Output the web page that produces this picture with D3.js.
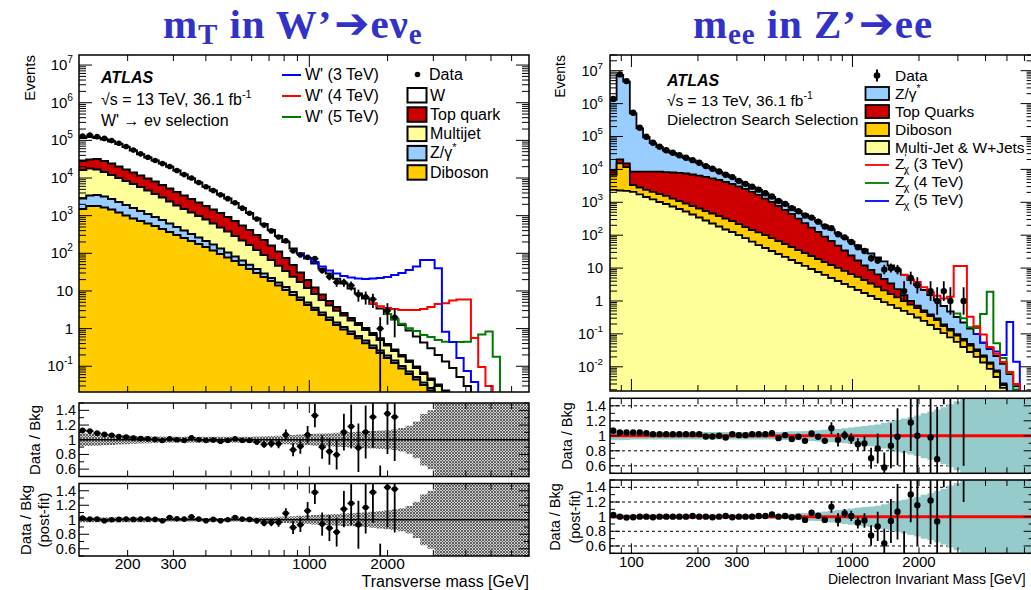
<!DOCTYPE html>
<html><head><meta charset="utf-8">
<script src="https://cdn.jsdelivr.net/npm/d3@7"></script>
<style>body{margin:0;background:#fff;}svg{display:block;}text{font-family:"Liberation Sans",Arial,Helvetica,sans-serif;fill:#000;}</style>
</head><body>
<script>
// ===================== LEFT: mT in W' -> e nu =====================
const edgesL = [130,138.6,147.8,157.6,168.1,179.2,191.1,203.8,217.3,231.7,247.1,263.6,281.1,299.7,319.6,340.8,363.6,387.7,413.5,440.9,470.2,501.5,534.8,570.3,608.1,648.5,691.6,737.5,786.5,838.7,894.4,953.8,1017,1085,1157,1234,1315,1403,1496,1595,1701,1814,1935,2063,2200,2346,2502,2668,2845,3034,3236,3451,3680,3924,4185,4463,4759,5075,5412,5771,6154,6563,7000];
// stacked (cumulative) heights, ROOT THStack style
const cumW   = [1.15e5,1.23e5,1.15e5,1.05e5,9.3e4,8.0e4,6.65e4,5.4e4,4.3e4,3.5e4,2.9e4,2.43e4,2.0e4,1.58e4,1.24e4,9700,7600,5900,4650,3650,2860,2170,1600,1170,840,600,416,288,200,134,99,73,54,39,29,21,15.8,11.6,8.55,6.3,4.6,3.4,2.44,1.75,1.25,0.89,0.62,0.43,0.30,0.20,0.134,0.090,0.052,0.030,0.0174,0.010,0.006,0.0035,0.002,0.0012,0.0007,0.0004];
const cumTop = [2.83e4,3.1e4,3.2e4,2.83e4,2.43e4,2.02e4,1.68e4,1.40e4,1.17e4,9700,8100,6500,5300,4250,3430,2770,2240,1800,1460,1180,920,720,550,416,306,226,161,112,75,49,31,19.5,12.4,8.0,5.4,3.75,2.6,1.91,1.41,1.04,0.76,0.55,0.39,0.279,0.199,0.142,0.0985,0.068,0.047,0.0328,0.0227,0.0157,0.011,0.0075,0.005,0.0035,0.0024,0.0016,0.0011,0.0008,0.0005,0.0004];
const cumMJ  = [1.63e4,1.79e4,1.68e4,1.44e4,1.20e4,1.0e4,8300,6900,5800,4660,3760,3030,2380,1860,1500,1210,980,790,620,485,380,288,219,166,122,90,66,47,34,24,17.3,12.0,8.3,5.75,4.1,3.0,2.23,1.64,1.25,0.92,0.68,0.50,0.356,0.254,0.182,0.130,0.090,0.062,0.043,0.030,0.0207,0.0143,0.0099,0.0068,0.0047,0.0032,0.0022,0.0015,0.001,0.0007,0.0005,0.0003];
const cumZ   = [2850,3430,3540,3230,2770,2300,1920,1600,1330,1110,920,767,619,500,403,325,263,212,171,134,105,82,64,50,38,29,22,16.8,12.7,9.4,6.7,4.9,3.6,2.68,1.97,1.45,1.10,0.84,0.64,0.48,0.356,0.262,0.193,0.142,0.102,0.0725,0.0518,0.037,0.0265,0.0183,0.0128,0.009,0.0062,0.0043,0.003,0.0021,0.0015,0.001,0.0007,0.0005,0.0003,0.0002];
const cumDB  = [1500,1800,1800,1650,1460,1210,1010,840,720,619,531,442,368,306,255,212,177,147,119,96,77,62,49,38,30,23.5,18.4,14.0,10.6,7.8,5.75,4.24,3.12,2.30,1.69,1.25,0.95,0.72,0.55,0.41,0.305,0.225,0.166,0.122,0.087,0.062,0.0445,0.0318,0.0227,0.0157,0.011,0.0075,0.005,0.0035,0.0024,0.0016,0.0011,0.0008,0.0005,0.0004,0.0003,0.0002];
// signal + background, starting at given bin
const wp3Start = 30, wp3 = [99,75,59,44.7,34.9,29.1,24.9,22.8,21.4,20.8,21.4,22.1,23.5,26.5,30,36,44.7,66,66,40,0.83,0.44,0.166,0.075,0.038,0.0195,0.008,0.003];
const wp4Start = 40, wp4 = [4.7,3.9,3.5,3.3,3.12,3.12,3.12,3.3,3.75,4.5,4.7,5.6,5.9,5.9,0.56,0.096,0.030,0.01,0.004];
const wp5Start = 42, wp5 = [2.44,1.8,1.35,1.02,0.86,0.68,0.60,0.50,0.45,0.44,0.44,0.45,0.56,0.70,0.84,0.18,0.012,0.005];
const dataL = [129600,137500,125400,112700,98600,83600,68900,55200,43800,35500,29100,24100,20300,15800,12300,9960,7600,5840,4630,3580,2830,2200,1584,1158,815,562,393,272,214,116,90,78,72,35,24,17,17,14,8,7,6,1,3,2];
const ratioL1 = [1.127,1.118,1.09,1.073,1.06,1.045,1.036,1.023,1.018,1.014,1.005,0.99,1.014,1.0,0.99,1.027,1.0,0.99,0.995,0.98,0.99,1.014,0.99,0.99,0.97,0.936,0.945,0.945,1.068,0.864,0.91,1.068,1.33,0.9,0.84,0.795,1.105,1.18,0.89,1.105,1.31,0.3,1.355,1.31];
const ratioL2 = [1.023,1.009,1.009,0.986,1.0,1.005,1.009,1.005,1.009,1.009,1.005,0.986,1.032,1.014,1.009,1.041,1.009,0.986,1.005,0.986,1.0,1.032,1.009,1.005,0.986,0.954,0.963,0.963,1.088,0.894,0.931,1.124,1.378,0.94,0.885,0.83,1.147,1.226,0.931,1.17,1.378,0.32,1.447,1.424];
const ratioErrL = [0.004,0.004,0.004,0.005,0.005,0.005,0.006,0.006,0.007,0.007,0.008,0.009,0.01,0.01,0.012,0.013,0.015,0.016,0.018,0.02,0.022,0.025,0.028,0.032,0.037,0.045,0.052,0.06,0.07,0.09,0.1,0.12,0.16,0.16,0.18,0.2,0.25,0.3,0.33,0.36,0.42,0.35,0.55,0.6];
const bandL1 = [0.09,0.085,0.08,0.075,0.07,0.065,0.06,0.055,0.05,0.048,0.045,0.043,0.042,0.04,0.04,0.04,0.04,0.04,0.04,0.04,0.04,0.04,0.04,0.042,0.045,0.048,0.05,0.055,0.06,0.065,0.07,0.075,0.08,0.085,0.09,0.095,0.1,0.105,0.11,0.115,0.12,0.125,0.13,0.14,0.16,0.19,0.25,0.35,0.4,0.6,0.8,0.8,0.8,0.8,0.8,0.8,0.8,0.8,0.8,0.8,0.8,0.8];
const bandL2 = [0.035,0.035,0.035,0.035,0.035,0.035,0.035,0.035,0.035,0.035,0.025,0.025,0.025,0.025,0.025,0.025,0.025,0.025,0.025,0.025,0.025,0.025,0.025,0.03,0.03,0.035,0.035,0.04,0.045,0.05,0.055,0.06,0.065,0.07,0.075,0.08,0.085,0.09,0.095,0.1,0.11,0.12,0.13,0.14,0.16,0.19,0.25,0.35,0.4,0.6,0.8,0.8,0.8,0.8,0.8,0.8,0.8,0.8,0.8,0.8,0.8,0.8];
const xTickLabelsL = [200,300,1000,2000];

// ===================== RIGHT: mee in Z' -> ee =====================
const edgesR = [80,85.7,91.81,98.36,105.4,112.9,120.9,129.6,138.8,148.7,159.3,170.6,182.8,195.8,209.8,224.7,240.8,257.9,276.3,296.0,317.1,339.7,363.9,389.9,417.7,447.4,479.3,513.5,550.1,589.3,631.3,676.2,724.4,776.1,831.4,890.6,954.1,1022,1095,1173,1257,1346,1442,1545,1655,1773,1900,2035,2180,2335,2502,2680,2871,3076,3295,3530,3781,4051,4340,4649,4981,5335,5716,6123,6560,7027];
const cumZR   = [1.29e6,7.4e6,4.63e6,5.07e5,1.77e5,9.5e4,6.3e4,4.8e4,3.75e4,3.15e4,2.64e4,2.22e4,1.87e4,1.57e4,1.27e4,1.06e4,8600,7000,5700,4440,3600,2920,2370,1850,1450,1130,888,695,544,426,333,261,197,149,113,85,64,48.6,36.8,27.8,21,15.9,12,9.1,6.2,4.35,3.06,2.16,1.52,1.04,0.705,0.48,0.326,0.222,0.146,0.099,0.053,0.0347,0.0213,0.0122,0.006,0.0026,0.00113,0.0005,0.0002];
const cumTopR = [9600,2.03e4,1.53e4,8500,8600,8600,8600,8600,8300,8050,7800,7500,7000,6500,5900,5300,4760,4140,3600,3020,2540,2060,1670,1300,1020,771,583,441,321,234,171,125,91,66.5,48.5,34.2,24.1,17.0,12.0,8.75,6.4,4.66,3.4,2.3,1.5,1.0,0.72,0.52,0.39,0.294,0.193,0.141,0.099,0.070,0.0493,0.0336,0.022,0.0135,0.0077,0.0031,0.0011,0.0005,0.0003,0.0002,0.0001];
const cumDBR  = [6800,1.53e4,1.18e4,3360,2820,2370,2060,1790,1560,1300,1090,918,771,647,543,456,383,321,270,219,177,144,121,101,82,66.7,54,43.8,35.5,28.8,23.3,18.9,15.3,12.4,10.1,8.2,6.6,5.4,4.35,3.4,2.67,2.09,1.63,1.28,1.0,0.78,0.61,0.46,0.35,0.264,0.174,0.127,0.089,0.063,0.0444,0.0302,0.0199,0.0122,0.0070,0.0028,0.001,0.0004,0.0002,0.0001,0.0001];
const cumMJR  = [2370,2280,2210,2060,1730,1450,1220,1020,888,745,625,525,426,345,280,227,184,149,125,101,82,64,50,40.8,33.1,26.8,21.8,17.6,14.3,11.6,9.4,7.6,6.2,5.0,4.05,3.29,2.67,2.16,1.75,1.42,1.15,0.93,0.76,0.61,0.50,0.40,0.315,0.247,0.186,0.141,0.106,0.078,0.057,0.040,0.0282,0.0199,0.0135,0.0086,0.0049,0.0023,0.0008,0.0003,0.0002,0.0001,0.0001];
const zp3Start = 44, zp3 = [6.3,4.5,3.8,2.6,1.8,1.45,1.2,1.35,11.5,11.5,0.33,0.17,0.096,0.04,0.025,0.014,0.007,0.003,0.0015,0.0007,0.0003];
const zp4Start = 52, zp4 = [0.42,0.3,0.16,0.15,0.4,1.9,0.052,0.0185,0.0065,0.002,0.0008,0.0003,0.0001];
const zp5Start = 55, zp5 = [0.1,0.055,0.037,0.029,0.0228,0.23,0.0143,0.001,0.0005,0.0002];
const dataR = [1.376e6,7.73e6,4.83e6,5.29e5,1.85e5,9.84e4,6.44e4,4.91e4,3.83e4,3.22e4,2.7e4,2.27e4,1.91e4,1.6e4,1.26e4,1.05e4,8600,6850,5830,4480,3630,2980,2420,1890,1500,1095,896,664,537,397,343,258,184,164,107,86,62,43,33,20,17,9,10,9,2,5,3,null,2,1,2,1,null,1];
const ratioR1 = [1.067,1.044,1.044,1.044,1.044,1.036,1.022,1.022,1.022,1.022,1.022,1.022,1.022,1.022,0.991,0.991,1.0,0.978,1.022,1.009,1.009,1.022,1.022,1.022,1.036,0.969,1.009,0.956,0.987,0.933,1.031,0.987,0.933,1.102,0.947,1.009,0.964,0.889,0.898,0.702,0.831,0.578,0.867,0.987,0.3,1.178,1.0,null,0.978,0.689,2.0,2.1,null,3.0];
const ratioR2 = [1.022,1.0,0.987,0.991,1.0,1.0,0.991,1.0,1.0,1.0,1.0,1.0,1.009,1.0,1.0,0.991,1.0,1.009,0.991,1.0,1.0,1.0,1.009,1.009,1.031,1.0,1.009,0.991,1.0,0.956,1.053,1.013,0.956,1.133,0.956,1.044,1.009,0.92,0.947,0.742,0.867,0.636,0.942,1.067,0.3,1.302,1.156,null,1.222,0.933,2.4,2.3,null,3.2];
const ratioErrR1 = [0.003,0.003,0.003,0.003,0.003,0.003,0.003,0.003,0.003,0.003,0.003,0.003,0.003,0.003,0.005,0.005,0.006,0.006,0.007,0.008,0.009,0.01,0.011,0.012,0.014,0.016,0.018,0.02,0.022,0.025,0.03,0.035,0.04,0.08,0.09,0.06,0.07,0.08,0.1,0.14,0.2,0.2,0.3,0.38,0.5,0.38,0.55,null,0.6,0.7,0.58,2.1,null,2.4];
const ratioErrR2 = [0.003,0.003,0.003,0.003,0.003,0.003,0.003,0.003,0.003,0.003,0.003,0.003,0.003,0.003,0.005,0.005,0.006,0.006,0.007,0.008,0.009,0.01,0.011,0.012,0.014,0.016,0.018,0.02,0.022,0.025,0.03,0.035,0.04,0.08,0.09,0.06,0.07,0.08,0.1,0.14,0.2,0.2,0.3,0.38,0.5,0.38,0.55,null,0.6,0.7,1.0,2.3,null,2.0];
const bandR1 = [0.06,0.06,0.055,0.05,0.05,0.05,0.05,0.05,0.05,0.05,0.05,0.05,0.05,0.05,0.05,0.05,0.05,0.05,0.05,0.05,0.05,0.05,0.05,0.05,0.05,0.05,0.055,0.06,0.06,0.065,0.07,0.075,0.08,0.085,0.09,0.1,0.11,0.12,0.13,0.14,0.15,0.17,0.19,0.21,0.23,0.25,0.27,0.3,0.32,0.35,0.38,0.42,0.46,0.5,0.6,0.6,0.6,0.6,0.6,0.6,0.6,0.6,0.6,0.6,0.6];
const bandR2 = [0.03,0.03,0.03,0.03,0.03,0.03,0.03,0.03,0.03,0.03,0.03,0.03,0.03,0.03,0.03,0.03,0.03,0.03,0.03,0.03,0.03,0.03,0.03,0.03,0.03,0.03,0.035,0.04,0.045,0.05,0.055,0.06,0.07,0.08,0.09,0.1,0.11,0.12,0.13,0.14,0.15,0.17,0.19,0.21,0.23,0.25,0.27,0.3,0.32,0.35,0.38,0.42,0.46,0.5,0.6,0.6,0.6,0.6,0.6,0.6,0.6,0.6,0.6,0.6,0.6];
const xTickLabelsR = [100,200,300,1000,2000];
const ratioTickLabels = [0.6,0.8,1,1.2,1.4];

// ===================== drawing =====================
const svg = d3.select("body").append("svg").attr("width",1031).attr("height",590);
const defs = svg.append("defs");
const pat = defs.append("pattern").attr("id","hatch").attr("patternUnits","userSpaceOnUse").attr("width",3).attr("height",3);
pat.append("rect").attr("width",3).attr("height",3).attr("fill","#cfcfcf");
pat.append("path").attr("d","M0,0L3,3M3,0L0,3").attr("stroke","#555").attr("stroke-width",0.9);

function ln(g,x1,y1,x2,y2,w,c){return g.append("line").attr("x1",x1).attr("y1",y1).attr("x2",x2).attr("y2",y2).attr("stroke",c||"#000").attr("stroke-width",w||1);}
let clipN=0;
function clipGroup(x0,y0,x1,y1){const id="c"+(clipN++);defs.append("clipPath").attr("id",id).append("rect").attr("x",x0).attr("y",y0).attr("width",x1-x0).attr("height",y1-y0);return svg.append("g").attr("clip-path",`url(#${id})`);}
function stepD(edges,vals,start,x,y,closeY){
  let d="";
  vals.forEach((v,k)=>{ if(v==null) return; const i=start+k; const yy=Math.min(y(Math.max(v,1e-9)),2000); const xa=x(edges[i]),xb=x(edges[i+1]);
    if(d==="") d = closeY!=null ? `M${xa},${closeY}V${yy}` : `M${xa},${yy}`; else d+=`V${yy}`; d+=`H${xb}`;});
  if(closeY!=null){ d+=`V${closeY}Z`; }
  return d;
}
function stackLayer(g,edges,vals,x,y,bottom,fill,sw){
  g.append("path").attr("d",stepD(edges,vals,0,x,y,bottom+20)).attr("fill",fill).attr("stroke","none");
  g.append("path").attr("d",stepD(edges,vals,0,x,y,null)).attr("fill","none").attr("stroke","#000").attr("stroke-width",sw);
}
function logXTicks(g,x,dom,yTop,yBot,maj,min){
  for(let e=Math.floor(Math.log10(dom[0]));e<=Math.ceil(Math.log10(dom[1]));e++) for(let m=1;m<=9;m++){
    const v=m*Math.pow(10,e); if(v<dom[0]*1.001||v>dom[1]*0.999) continue; const xx=x(v); const l=m===1?maj:min;
    ln(g,xx,yBot,xx,yBot-l); ln(g,xx,yTop,xx,yTop+l);}
}
function logYTicks(g,y,dom,x0,x1,maj,min){
  for(let e=Math.floor(Math.log10(dom[0]));e<=Math.ceil(Math.log10(dom[1]));e++) for(let m=1;m<=9;m++){
    const v=m*Math.pow(10,e); if(v<dom[0]||v>dom[1]) continue; const yy=y(v); const l=m===1?maj:min;
    ln(g,x0,yy,x0+l,yy); ln(g,x1,yy,x1-l,yy);}
}
function ratioYTicks(g,r,x0,x1){
  for(let k=0;k<=10;k++){const v=0.5+k*0.1; const yy=r(v); const l=(k%2===1)?10:5; ln(g,x0,yy,x0+l,yy); ln(g,x1,yy,x1-l,yy);}
}
function expLabel(g,x,y,e,fs){
  const t=g.append("text").attr("x",x).attr("y",y+5).attr("text-anchor","end").attr("font-size",fs);
  if(e===0) t.text("1"); else if(e===1) t.text("10");
  else { t.append("tspan").text("10"); t.append("tspan").attr("dy",-7).attr("font-size",fs*0.68).text(e<0?"-"+(-e):String(e)); }
}
function frame(x0,y0,x1,y1){svg.append("rect").attr("x",x0).attr("y",y0).attr("width",x1-x0).attr("height",y1-y0).attr("fill","none").attr("stroke","#000").attr("stroke-width",1.5);}
function rotText(x,y,txt,anchor,fs){return svg.append("text").attr("x",x).attr("y",y).attr("text-anchor",anchor).attr("font-size",fs).attr("transform",`rotate(-90,${x},${y})`).text(txt);}
function dataDraw(g,edges,vals,x,y,r,hbar,sym){
  vals.forEach((v,i)=>{ if(v==null) return; const xc=(x(edges[i])+x(edges[i+1]))/2;
    let lo,hi; if(sym){lo=v-Math.sqrt(v);hi=v+Math.sqrt(v);} else {lo=v-Math.sqrt(v+0.25)+0.5;hi=v+Math.sqrt(v+0.25)+0.5;}
    ln(g,xc,y(hi),xc,Math.min(y(Math.max(lo,1e-9)),2000),1.8);
    if(hbar) ln(g,x(edges[i]),y(v),x(edges[i+1]),y(v),1.6);
    g.append("circle").attr("cx",xc).attr("cy",y(v)).attr("r",r).attr("fill","#000");});
}
function ratioPanel(o){
  const g=clipGroup(o.x0,o.y0,o.x1,o.y1);
  if(o.grid){ [0.6,0.8,1.2,1.4].forEach(v=>ln(g,o.x0,o.r(v),o.x1,o.r(v),1,"#000").attr("stroke-dasharray","3,3")); }
  let d="",back=[];
  o.band.forEach((b,i)=>{const xa=o.x(o.edges[i]),xb=o.x(o.edges[i+1]); d+=(i===0?`M${xa},${o.r(1+b)}`:`V${o.r(1+b)}`)+`H${xb}`; back.unshift([xa,o.r(1-b)]);});
  back.forEach(s=>{ d+=`V${s[1]}H${s[0]}`; }); d+="Z";
  g.append("path").attr("d",d).attr("fill",o.bandFill).attr("stroke","none");
  ln(g,o.x0,o.r(1),o.x1,o.r(1),o.lineW,o.lineC);
  o.vals.forEach((v,i)=>{ if(v==null) return; const xa=o.x(o.edges[i]),xb=o.x(o.edges[i+1]),xc=(xa+xb)/2; const e=o.err[i]||0;
    ln(g,xc,o.r(v+e),xc,o.r(v-e),1.8);
    if(o.hbar) ln(g,xa,o.r(v),xb,o.r(v),1.6);
    g.append("circle").attr("cx",xc).attr("cy",o.r(v)).attr("r",o.mr).attr("fill","#000");});
  frame(o.x0,o.y0,o.x1,o.y1);
  const t=svg.append("g"); logXTicks(t,o.x,o.xdom,o.y0,o.y1,10,6); ratioYTicks(t,o.r,o.x0,o.x1);
  ratioTickLabels.forEach(v=>svg.append("text").attr("x",o.lx).attr("y",o.r(v)+5).attr("text-anchor","end").attr("font-size",o.fs).text(String(v)));
}

// ---------- LEFT ----------
const xDomL=[130,7000], yDomL=[0.0207,1.85e7];
const xL=d3.scaleLog().domain(xDomL).range([79,529]);
const yL=d3.scaleLog().domain(yDomL).range([392,55]);
{
  const g=clipGroup(79,55,529,392);
  stackLayer(g,edgesL,cumW,xL,yL,392,"#ffffff",2);
  stackLayer(g,edgesL,cumTop,xL,yL,392,"#cc0000",2);
  stackLayer(g,edgesL,cumMJ,xL,yL,392,"#ffff99",2);
  stackLayer(g,edgesL,cumZ,xL,yL,392,"#99ccff",2);
  stackLayer(g,edgesL,cumDB,xL,yL,392,"#ffcc00",2);
  g.append("path").attr("d",stepD(edgesL,wp5,wp5Start,xL,yL,null)).attr("fill","none").attr("stroke","#007a00").attr("stroke-width",2);
  g.append("path").attr("d",stepD(edgesL,wp4,wp4Start,xL,yL,null)).attr("fill","none").attr("stroke","#ff0000").attr("stroke-width",2);
  g.append("path").attr("d",stepD(edgesL,wp3,wp3Start,xL,yL,null)).attr("fill","none").attr("stroke","#0000ff").attr("stroke-width",2);
  dataDraw(g,edgesL,dataL,xL,yL,2.8,true,true);
  frame(79,55,529,392);
  const t=svg.append("g"); logXTicks(t,xL,xDomL,55,392,12,6); logYTicks(t,yL,yDomL,79,529,13,7);
  for(let e=-1;e<=7;e++) expLabel(svg,73,yL(Math.pow(10,e)),e,15);
  rotText(35,55,"Events","end",15);
  svg.append("text").attr("x",101).attr("y",83).attr("font-size",16).attr("font-weight","bold").attr("font-style","italic").text("ATLAS");
  const s1=svg.append("text").attr("x",101).attr("y",105).attr("font-size",16);
  s1.append("tspan").text("\u221As = 13 TeV, 36.1 fb"); s1.append("tspan").attr("dy",-7).attr("font-size",11).text("-1");
  svg.append("text").attr("x",101).attr("y",126).attr("font-size",16).text("W' \u2192 e\u03bd selection");
  [["W' (3 TeV)","#0000ff"],["W' (4 TeV)","#ff0000"],["W' (5 TeV)","#007a00"]].forEach((d,k)=>{
    ln(svg,282,75+k*21,301,75+k*21,2,d[1]); svg.append("text").attr("x",305).attr("y",80+k*21).attr("font-size",16).text(d[0]);});
  svg.append("circle").attr("cx",417.5).attr("cy",74.5).attr("r",2.8).attr("fill","#000");
  svg.append("text").attr("x",429).attr("y",80).attr("font-size",16).text("Data");
  [["W","#ffffff"],["Top quark","#cc0000"],["Multijet","#ffff99"],["Z/\u03b3","#99ccff"],["Diboson","#ffcc00"]].forEach((d,k)=>{
    const by=88+k*19.3; svg.append("rect").attr("x",407.5).attr("y",by).attr("width",19).attr("height",14.5).attr("fill",d[1]).attr("stroke","#000").attr("stroke-width",2);
    const t=svg.append("text").attr("x",430).attr("y",by+12.5).attr("font-size",16).text(d[0]);
    if(k===3) t.append("tspan").attr("dy",-7).attr("font-size",11).text("*");});
}
ratioPanel({x0:79,x1:529,y0:403,y1:476.5,x:xL,xdom:xDomL,r:d3.scaleLinear().domain([0.5,1.5]).range([476.5,403]),edges:edgesL,band:bandL1,bandFill:"url(#hatch)",vals:ratioL1,err:ratioErrL,hbar:true,mr:2.8,lineW:1.6,lineC:"#000",grid:false,lx:76,fs:14.5});
ratioPanel({x0:79,x1:529,y0:483.5,y1:556,x:xL,xdom:xDomL,r:d3.scaleLinear().domain([0.5,1.5]).range([556,483.5]),edges:edgesL,band:bandL2,bandFill:"url(#hatch)",vals:ratioL2,err:ratioErrL,hbar:true,mr:2.8,lineW:1.6,lineC:"#000",grid:false,lx:76,fs:14.5});
rotText(40,440,"Data / Bkg","middle",15);
rotText(31,520,"Data / Bkg","middle",15);
rotText(49,520,"(post-fit)","middle",15);
xTickLabelsL.forEach(v=>svg.append("text").attr("x",xL(v)).attr("y",568.5).attr("text-anchor","middle").attr("font-size",15.5).text(String(v)));
svg.append("text").attr("x",529).attr("y",586.5).attr("text-anchor","end").attr("font-size",16).text("Transverse mass [GeV]");

// ---------- RIGHT ----------
const xDomR=[80,6600], yDomR=[0.001837,3.0e7];
const xR=d3.scaleLog().domain(xDomR).range([610,1033.6]);
const yR=d3.scaleLog().domain(yDomR).range([391,55]);
{
  const g=clipGroup(610,55,1033.6,391);
  stackLayer(g,edgesR,cumZR,xR,yR,391,"#99ccff",1.8);
  stackLayer(g,edgesR,cumTopR,xR,yR,391,"#cc0000",1.8);
  stackLayer(g,edgesR,cumDBR,xR,yR,391,"#ffcc00",1.8);
  stackLayer(g,edgesR,cumMJR,xR,yR,391,"#ffff99",1.8);
  g.append("path").attr("d",stepD(edgesR,zp5,zp5Start,xR,yR,null)).attr("fill","none").attr("stroke","#0000ff").attr("stroke-width",2);
  g.append("path").attr("d",stepD(edgesR,zp4,zp4Start,xR,yR,null)).attr("fill","none").attr("stroke","#007a00").attr("stroke-width",2);
  g.append("path").attr("d",stepD(edgesR,zp3,zp3Start,xR,yR,null)).attr("fill","none").attr("stroke","#ff0000").attr("stroke-width",2);
  dataDraw(g,edgesR,dataR,xR,yR,3.2,false,false);
  frame(610,55,1033.6,391);
  const t=svg.append("g"); logXTicks(t,xR,xDomR,55,391,12,6); logYTicks(t,yR,yDomR,610,1033.6,13,7);
  for(let e=-2;e<=7;e++) expLabel(svg,603,yR(Math.pow(10,e)),e,14.5);
  rotText(565,55,"Events","end",14);
  svg.append("text").attr("x",667).attr("y",86).attr("font-size",16).attr("font-weight","bold").attr("font-style","italic").text("ATLAS");
  const s1=svg.append("text").attr("x",667).attr("y",105.5).attr("font-size",15.5);
  s1.append("tspan").text("\u221As = 13 TeV, 36.1 fb"); s1.append("tspan").attr("dy",-7).attr("font-size",10.5).text("-1");
  svg.append("text").attr("x",667).attr("y",125).attr("font-size",15.5).text("Dielectron Search Selection");
  ln(svg,877,69.5,877,81.5,2); svg.append("circle").attr("cx",877).attr("cy",75.5).attr("r",3.3).attr("fill","#000");
  svg.append("text").attr("x",895).attr("y",80.5).attr("font-size",15.5).text("Data");
  [["Z/\u03b3","#99ccff"],["Top Quarks","#cc0000"],["Diboson","#ffcc00"],["Multi-Jet & W+Jets","#ffff99"]].forEach((d,k)=>{
    const by=87+k*18; svg.append("rect").attr("x",865.5).attr("y",by).attr("width",23.5).attr("height",13).attr("fill",d[1]).attr("stroke","#000").attr("stroke-width",1.8);
    const t=svg.append("text").attr("x",895).attr("y",by+11.5).attr("font-size",15.5).text(d[0]);
    if(k===0) t.append("tspan").attr("dy",-7).attr("font-size",10.5).text("*");});
  [["3","#ff0000"],["4","#007a00"],["5","#0000ff"]].forEach((d,k)=>{
    const yy=165+k*18; ln(svg,865,yy,889,yy,1.8,d[1]);
    const t=svg.append("text").attr("x",895).attr("y",yy+4).attr("font-size",15.5);
    t.append("tspan").text("Z"); t.append("tspan").attr("dy",-7).attr("font-size",10).text("'");
    t.append("tspan").attr("dx",-3).attr("dy",11).attr("font-size",11).text("\u03c7");
    t.append("tspan").attr("dy",-4).text(` (${d[0]} TeV)`);});
}
ratioPanel({x0:610,x1:1033.6,y0:398.3,y1:473.3,x:xR,xdom:xDomR,r:d3.scaleLinear().domain([0.5,1.5]).range([473.3,398.3]),edges:edgesR,band:bandR1,bandFill:"#96cbcb",vals:ratioR1,err:ratioErrR1,hbar:false,mr:3.2,lineW:3,lineC:"#ff0000",grid:true,lx:606,fs:14.5});
ratioPanel({x0:610,x1:1033.6,y0:480,y1:553.3,x:xR,xdom:xDomR,r:d3.scaleLinear().domain([0.5,1.5]).range([553.3,480]),edges:edgesR,band:bandR2,bandFill:"#96cbcb",vals:ratioR2,err:ratioErrR2,hbar:false,mr:3.2,lineW:3,lineC:"#ff0000",grid:true,lx:606,fs:14.5});
rotText(572,436,"Data / Bkg","middle",14.5);
rotText(560,517,"Data / Bkg","middle",14.5);
rotText(580,517,"(post-fit)","middle",14.5);
xTickLabelsR.forEach(v=>svg.append("text").attr("x",xR(v)).attr("y",566.5).attr("text-anchor","middle").attr("font-size",15).text(String(v)));
svg.append("text").attr("x",828).attr("y",584).attr("font-size",14).text("Dielectron Invariant Mass [GeV]");

// ---------- titles ----------
function title(x,parts){
  const t=svg.append("text").attr("x",x).attr("y",38).attr("font-weight","bold").attr("font-size",41)
    .style("font-family","'Liberation Serif','Times New Roman',serif").style("fill","#3232c8").style("letter-spacing","0.9px");
  parts.forEach(p=>{const s=t.append("tspan").text(p.t); if(p.sub){s.attr("font-size",29).attr("dy",6);} if(p.back) s.attr("dy",-6);
    if(p.arrow) s.style("font-family","'DejaVu Sans',sans-serif").attr("font-size",42).attr("dx",2);});
}
title(163,[{t:"m"},{t:"T",sub:1},{t:" in W\u2019",back:1},{t:"\u2794",arrow:1},{t:"e\u03bd"},{t:"e",sub:1}]);
title(693,[{t:"m"},{t:"ee",sub:1},{t:" in Z\u2019",back:1},{t:"\u2794",arrow:1},{t:"ee"}]);
</script>
</body></html>
